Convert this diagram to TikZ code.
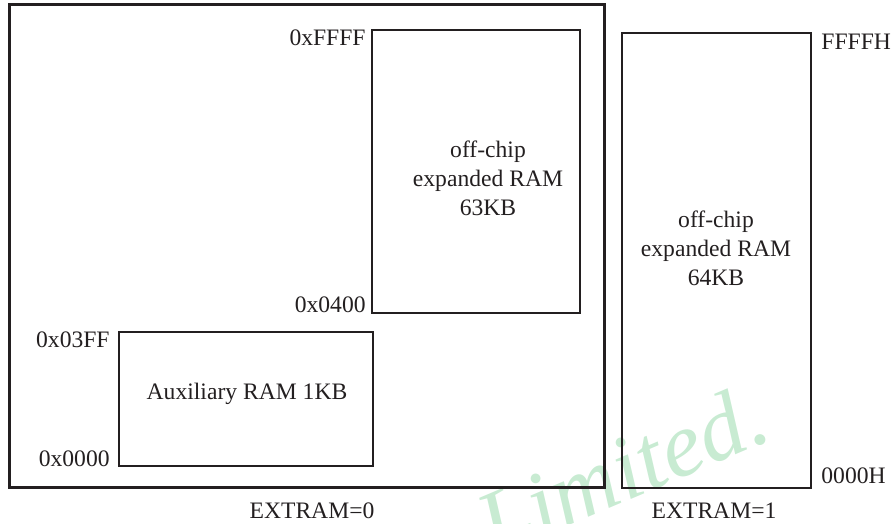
\documentclass[tikz,border=0pt]{standalone}
\usepackage{fontspec}
\setmainfont{Liberation Serif}
\definecolor{ink}{HTML}{231F20}
\definecolor{wmgreen}{RGB}{200,235,210}
\begin{document}
\begin{tikzpicture}[x=0.5pt,y=-0.5pt]
	\tikzset{
		outerbox/.style={draw=ink, line width=1.5pt},
		membox/.style={draw=ink, line width=1pt},
		addr/.style={inner sep=0pt, text=ink, font=\fontsize{11.8}{14.5}\selectfont},
		blocktext/.style={addr, align=center},
		wmark/.style={inner sep=0pt, text=wmgreen, font=\fontsize{46}{50}\selectfont\itshape}
	}
	\useasboundingbox (0,0) rectangle (895,524);
	
	% Watermark, behind the boxes
	\node[wmark, rotate=23, anchor=base west] (wm) at (494,558) {Limited.};
	
	% EXTRAM=0: outer frame and the two blocks
	\draw[outerbox] (9,5) rectangle (604,487);
	\draw[membox] (372,30) rectangle (580,313);
	\draw[membox] (119,332) rectangle (373,466);
	
	% EXTRAM=1: one block
	\draw[membox] (622,33) rectangle (811,488);
	
	% Block texts
	\node[blocktext] (ext63) at (488,178) {off-chip\\expanded RAM\\63KB};
	\node[blocktext] (aux) at (247,394) {Auxiliary RAM 1KB};
	\node[blocktext] (ext64) at (716,248) {off-chip\\expanded RAM\\64KB};
	
	% Address labels
	\node[addr, anchor=base east] (a3) at (366,46) {0xFFFF};
	\node[addr, anchor=base east] (a2) at (366,312) {0x0400};
	\node[addr, anchor=base east] (a1) at (110,347) {0x03FF};
	\node[addr, anchor=base east] (a0) at (110,466) {0x0000};
	\node[addr, anchor=base west] (b1) at (821,50) {FFFFH};
	\node[addr, anchor=base west] (b0) at (821,483) {0000H};
	
	% Captions
	\node[addr, anchor=base] (cap0) at (312,518) {EXTRAM=0};
	\node[addr, anchor=base] (cap1) at (714,518) {EXTRAM=1};
	
\end{tikzpicture}
\end{document}
